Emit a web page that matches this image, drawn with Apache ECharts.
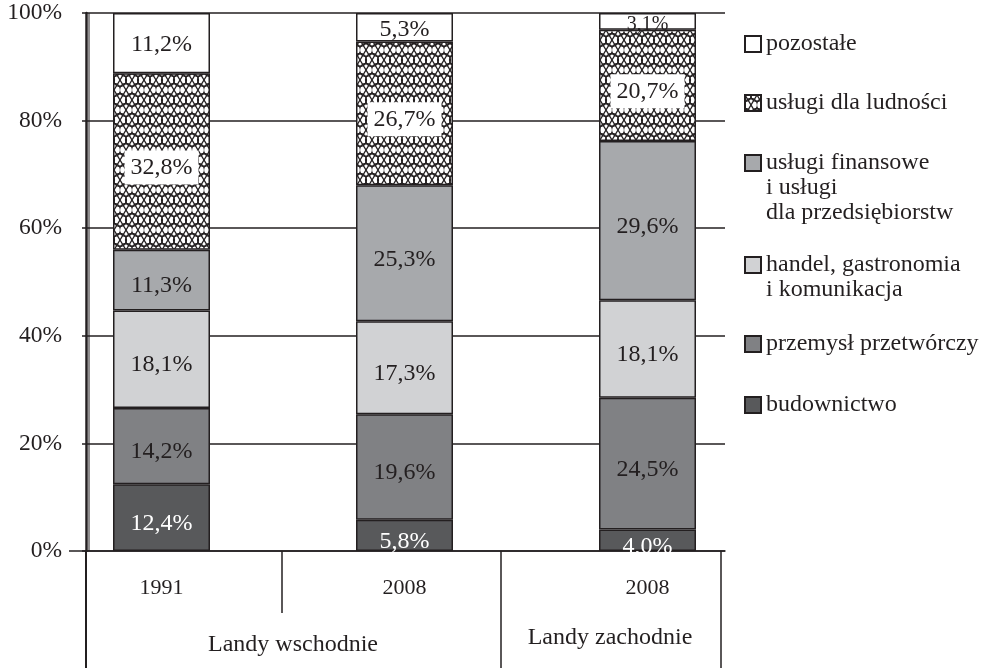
<!DOCTYPE html>
<html><head><meta charset="utf-8">
<script src="https://cdn.jsdelivr.net/npm/echarts@6/dist/echarts.min.js"></script>
<style>html,body{margin:0;padding:0;background:#fff}#c{width:988px;height:668px}</style>
</head><body><div id="c"></div>
<script>
const categories = ['1991', '2008', '2008'];
const groupLabels = ['Landy wschodnie', 'Landy zachodnie'];
const yTicks = [0, 20, 40, 60, 80, 100];
const budownictwo = [12.4, 5.8, 4.0];
const przemysl = [14.2, 19.6, 24.5];
const handel = [18.1, 17.3, 18.1];
const finansowe = [11.3, 25.3, 29.6];
const ludnosci = [32.8, 26.7, 20.7];
const pozostale = [11.2, 5.3, 3.1];
const seriesNames = ['budownictwo', 'przemysł przetwórczy', 'handel, gastronomia\ni komunikacja',
  'usługi finansowe\ni usługi\ndla przedsiębiorstw', 'usługi dla ludności', 'pozostałe'];

const FONT = 'Liberation Serif';
const INK = '#231f20';

function makePattern() {
  const c = document.createElement('canvas');
  c.width = 12; c.height = 20;
  const g = c.getContext('2d');
  g.fillStyle = '#fff'; g.fillRect(0, 0, 12, 20);
  g.strokeStyle = INK; g.lineWidth = 1.3;
  g.beginPath(); g.moveTo(0, 0); g.lineTo(12, 20); g.moveTo(12, 0); g.lineTo(0, 20); g.stroke();
  [[0, 0], [12, 0], [6, 10], [0, 20], [12, 20]].forEach(([x, y]) => {
    g.beginPath(); g.arc(x, y, 6.5, 0, Math.PI * 2); g.stroke();
  });
  return c;
}
const pattern = { image: makePattern(), repeat: 'repeat' };

const dataArr = [budownictwo, przemysl, handel, finansowe, ludnosci, pozostale];
const fills = ['#58595b', '#808184', '#d1d2d4', '#a7a9ac', pattern, '#ffffff'];
const labelColors = ['#ffffff', INK, INK, INK, INK, INK];

const series = dataArr.map((d, i) => ({
  name: seriesNames[i], type: 'bar', stack: 'total', xAxisIndex: 1, yAxisIndex: 1,
  barWidth: 97, silent: true,
  data: d.map(v => (i === 5 && v < 4) ? { value: v, label: { fontSize: 20, offset: [0, 3] } } : v),
  itemStyle: { color: fills[i], borderColor: INK, borderWidth: 1.5 },
  label: {
    show: true, position: 'inside', fontFamily: FONT, fontSize: 24, color: labelColors[i],
    offset: i === 5 ? [0, 2] : [0, 6],
    formatter: p => p.value.toFixed(1).replace('.', ',') + '%',
    backgroundColor: i === 4 ? '#ffffff' : 'transparent', padding: i === 4 ? [5, 6] : 0
  },
  emphasis: { disabled: true }
}));

// legend: one per item, top to bottom
const legendOrder = [5, 4, 3, 2, 1, 0];
const iconCenters = [44, 103, 163, 265, 344, 405];
const LH = 25;
const legends = legendOrder.map((si, k) => {
  const name = seriesNames[si];
  const n = name.split('\n').length;
  const boxH = (2 * n - 1) * LH;
  return {
    data: [{ name, icon: 'rect' }],
    formatter: nm => '\n'.repeat(nm.split('\n').length - 1) + nm,
    left: 744, top: iconCenters[k] - boxH / 2, orient: 'vertical', padding: 0,
    itemWidth: 16, itemHeight: 16, selectedMode: false,
    textStyle: { fontFamily: FONT, fontSize: 24, lineHeight: LH, color: INK, backgroundColor: 'rgba(255,255,255,0)' }
  };
});

const lineStyle = { stroke: INK, lineWidth: 1.5 };
const groupFont = '24px "Liberation Serif"';
const chart = echarts.init(document.getElementById('c'));
chart.setOption({
  animation: false,
  textStyle: { fontFamily: FONT },
  grid: [
    { left: 86, right: 263, top: 13, bottom: 117 },
    { left: 40, right: 219, top: 13, bottom: 117 }
  ],
  xAxis: [
    { gridIndex: 0, type: 'category', data: categories, axisLine: { show: true, lineStyle: { color: INK, width: 1.5 } },
      axisTick: { show: false }, axisLabel: { show: false }, splitLine: { show: false } },
    { gridIndex: 1, type: 'category', data: categories, axisLine: { show: false }, axisTick: { show: false },
      axisLabel: { fontFamily: FONT, fontSize: 22, color: INK, margin: 26 } }
  ],
  yAxis: [
    { gridIndex: 0, type: 'value', min: yTicks[0], max: yTicks[yTicks.length - 1], interval: 20,
      axisLine: { show: true, lineStyle: { color: INK, width: 2.5 } },
      axisTick: { show: true, length: 4, lineStyle: { color: INK, width: 1.5 } },
      axisLabel: { formatter: '{value}%', fontFamily: FONT, fontSize: 23.5, color: INK, margin: 24 },
      splitLine: { show: true, lineStyle: { color: INK, width: 1.5 } } },
    { gridIndex: 1, type: 'value', min: 0, max: 100, show: false }
  ],
  legend: legends,
  series,
  graphic: [
    { type: 'line', shape: { x1: 69, y1: 551, x2: 86, y2: 551 }, style: lineStyle },
    { type: 'line', shape: { x1: 89, y1: 13, x2: 89, y2: 551 }, style: { stroke: INK, lineWidth: 1 } },
    { type: 'line', shape: { x1: 86, y1: 551, x2: 86, y2: 668 }, style: { stroke: INK, lineWidth: 2 } },
    { type: 'line', shape: { x1: 282, y1: 551, x2: 282, y2: 613 }, style: lineStyle },
    { type: 'line', shape: { x1: 501, y1: 551, x2: 501, y2: 668 }, style: lineStyle },
    { type: 'line', shape: { x1: 721, y1: 551, x2: 721, y2: 668 }, style: lineStyle },
    { type: 'text', x: 293, y: 645, style: { text: groupLabels[0], font: groupFont, fill: INK, align: 'center', verticalAlign: 'middle' } },
    { type: 'text', x: 610, y: 638, style: { text: groupLabels[1], font: groupFont, fill: INK, align: 'center', verticalAlign: 'middle' } }
  ]
});
</script></body></html>
